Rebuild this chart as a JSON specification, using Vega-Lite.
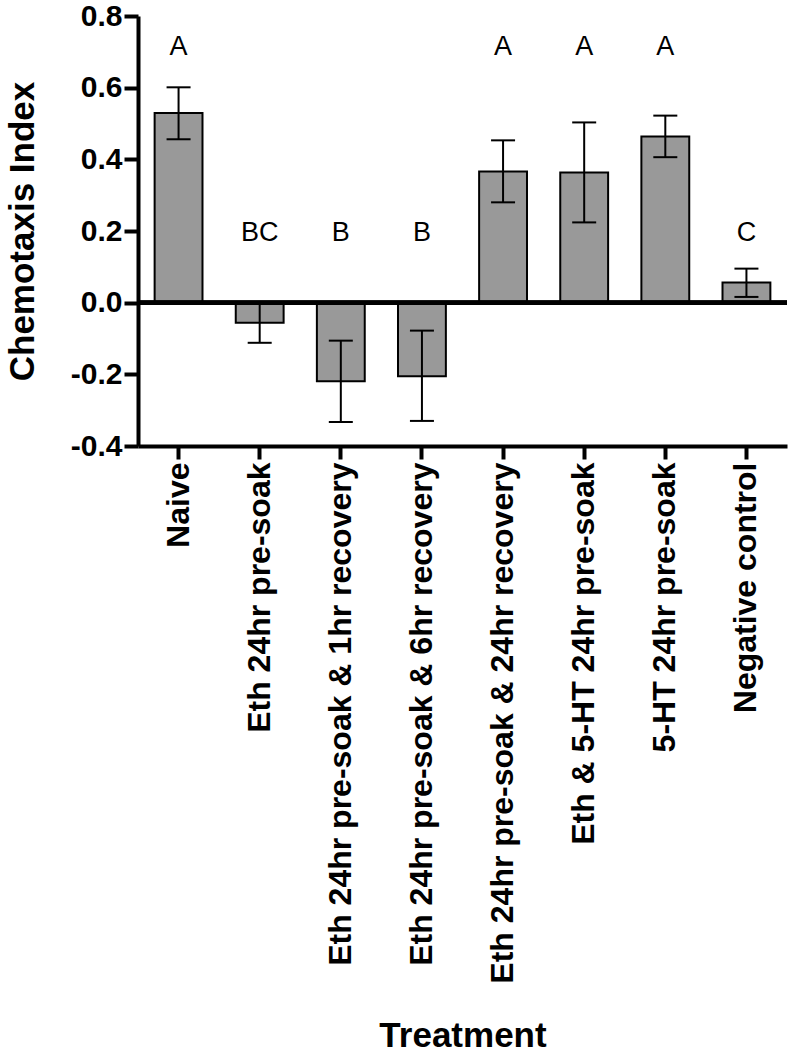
{
  "$schema": "https://vega.github.io/schema/vega-lite/v6.json",
  "autosize": "none",
  "width": 649,
  "height": 430,
  "padding": {"left": 138, "top": 16, "right": 2, "bottom": 611},
  "background": "white",
  "config": {
    "view": {"stroke": null},
    "font": "Liberation Sans"
  },
  "data": {
    "values": [
      {"treatment": "Naive", "mean": 0.529, "lo": 0.456, "hi": 0.601, "letter": "A", "ly": 0.692},
      {"treatment": "Eth 24hr pre-soak", "mean": -0.056, "lo": -0.112, "hi": 0.0, "letter": "BC", "ly": 0.172},
      {"treatment": "Eth 24hr pre-soak & 1hr recovery", "mean": -0.219, "lo": -0.333, "hi": -0.106, "letter": "B", "ly": 0.172},
      {"treatment": "Eth 24hr pre-soak & 6hr recovery", "mean": -0.205, "lo": -0.330, "hi": -0.078, "letter": "B", "ly": 0.172},
      {"treatment": "Eth 24hr pre-soak & 24hr recovery", "mean": 0.366, "lo": 0.280, "hi": 0.453, "letter": "A", "ly": 0.692},
      {"treatment": "Eth & 5-HT 24hr pre-soak", "mean": 0.363, "lo": 0.224, "hi": 0.503, "letter": "A", "ly": 0.692},
      {"treatment": "5-HT 24hr pre-soak", "mean": 0.464, "lo": 0.406, "hi": 0.522, "letter": "A", "ly": 0.692},
      {"treatment": "Negative control", "mean": 0.056, "lo": 0.016, "hi": 0.095, "letter": "C", "ly": 0.172}
    ]
  },
  "encoding": {
    "x": {
      "field": "treatment",
      "type": "nominal",
      "sort": null,
      "scale": {"paddingInner": 0.41, "paddingOuter": 0.205},
      "axis": {
        "title": "Treatment",
        "titleFont": "Liberation Sans",
        "titleFontSize": 35,
        "titleFontWeight": "bold",
        "titleColor": "black",
        "titlePadding": 372,
        "labelAngle": -90,
        "labelFont": "Liberation Sans",
        "labelFontSize": 32,
        "labelFontWeight": "bold",
        "labelColor": "black",
        "labelLimit": 0,
        "labelPadding": 3,
        "domainColor": "black",
        "domainWidth": 4,
        "tickColor": "black",
        "tickWidth": 4,
        "tickSize": 13
      }
    }
  },
  "layer": [
    {
      "mark": {"type": "bar", "fill": "#999999", "stroke": "black", "strokeWidth": 2},
      "encoding": {
        "y": {
          "field": "mean",
          "type": "quantitative",
          "scale": {"domain": [-0.4, 0.8], "nice": false, "zero": false},
          "axis": {
            "title": "Chemotaxis Index",
            "titleFont": "Liberation Sans",
            "titleFontSize": 35,
            "titleFontWeight": "bold",
            "titleColor": "black",
            "titlePadding": 30,
            "values": [-0.4, -0.2, 0, 0.2, 0.4, 0.6, 0.8],
            "labelExpr": "datum.value < 0 ? '-' + format(-datum.value, '.1f') : format(datum.value, '.1f')",
            "labelFont": "Liberation Sans",
            "labelFontSize": 30,
            "labelFontWeight": "bold",
            "labelColor": "black",
            "labelPadding": 2,
            "grid": false,
            "domainColor": "black",
            "domainWidth": 4,
            "tickColor": "black",
            "tickWidth": 4,
            "tickSize": 14
          }
        },
        "y2": {"datum": 0}
      }
    },
    {
      "mark": {"type": "rule", "color": "black", "strokeWidth": 4},
      "encoding": {"y": {"datum": 0, "type": "quantitative"}, "x": {"value": 0}, "x2": {"value": 649}}
    },
    {
      "mark": {"type": "rule", "color": "black", "strokeWidth": 2},
      "encoding": {
        "y": {"field": "lo", "type": "quantitative"},
        "y2": {"field": "hi"}
      }
    },
    {
      "mark": {"type": "tick", "color": "black", "size": 24, "thickness": 2, "opacity": 1},
      "encoding": {"y": {"field": "lo", "type": "quantitative"}}
    },
    {
      "mark": {"type": "tick", "color": "black", "size": 24, "thickness": 2, "opacity": 1},
      "encoding": {"y": {"field": "hi", "type": "quantitative"}}
    },
    {
      "mark": {"type": "text", "font": "Liberation Sans", "fontSize": 27, "color": "black", "align": "center", "baseline": "alphabetic"},
      "encoding": {
        "y": {"field": "ly", "type": "quantitative"},
        "text": {"field": "letter"}
      }
    }
  ]
}
